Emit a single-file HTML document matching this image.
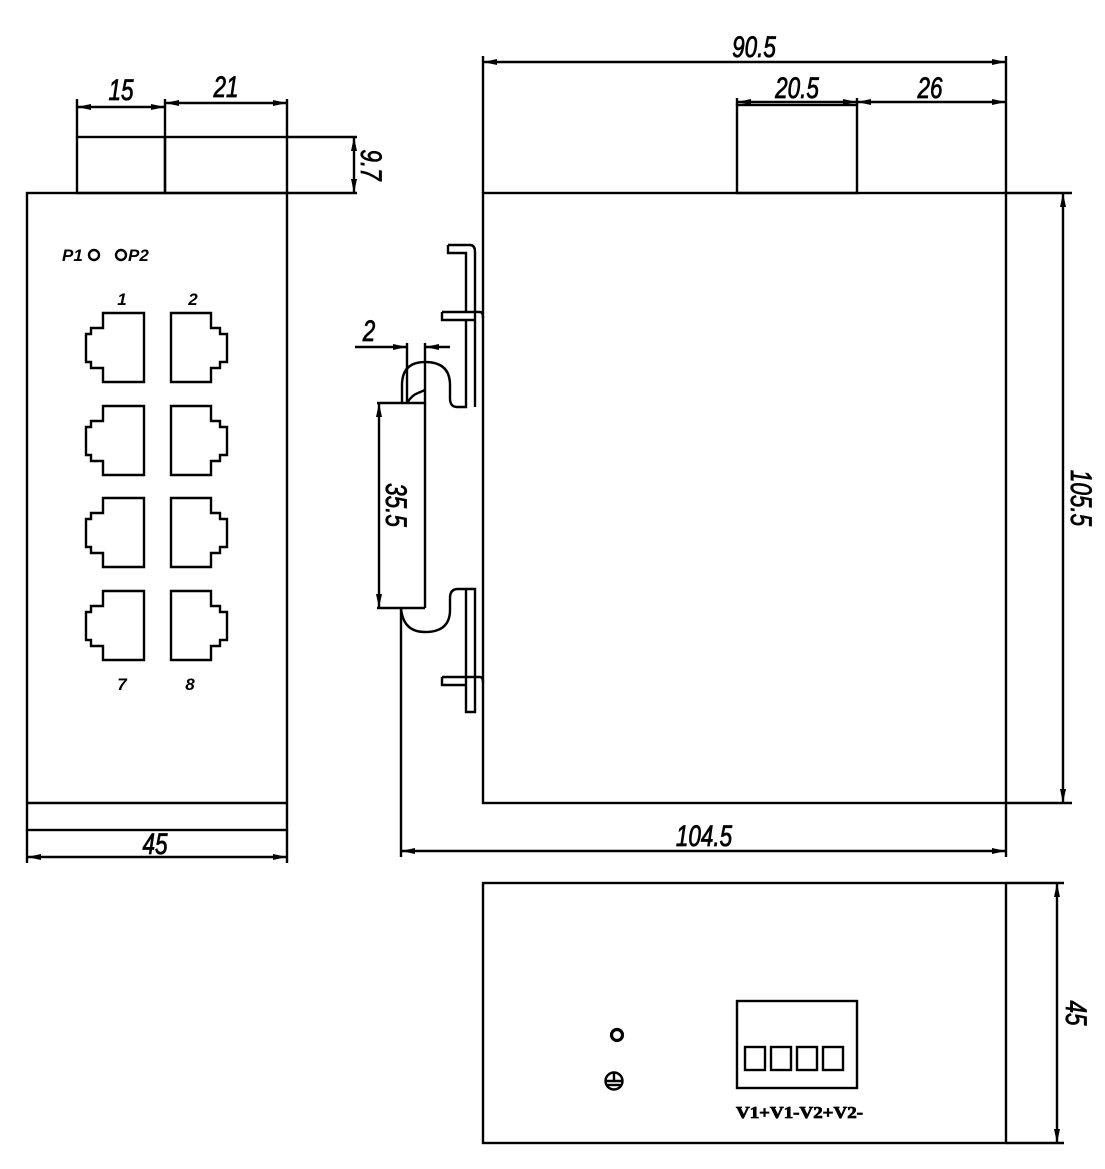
<!DOCTYPE html>
<html><head><meta charset="utf-8"><style>
html,body{margin:0;padding:0;background:#fff;}
svg{display:block}
text{font-family:"Liberation Sans",sans-serif;font-style:italic;fill:#000}
.d{stroke:#000;stroke-width:0.8}
</style></head><body>
<svg width="1105" height="1169" viewBox="0 0 1105 1169" xmlns="http://www.w3.org/2000/svg">
<defs>
<marker id="a" viewBox="0 0 14 6" refX="14" refY="3" markerWidth="14" markerHeight="6" orient="auto-start-reverse" markerUnits="userSpaceOnUse"><path d="M0,0 L14,3 L0,6 z" fill="#000"/></marker>
</defs>
<g fill="none" stroke="#000" stroke-width="2.4">
<rect x="27" y="193" width="260" height="637"/>
<line x1="27" y1="803" x2="287" y2="803"/>
<rect x="77" y="137" width="88" height="56"/>
<rect x="165" y="137" width="122" height="56"/>
<line x1="77" y1="137" x2="77" y2="99"/>
<line x1="165" y1="137" x2="165" y2="99"/>
<line x1="287" y1="137" x2="287" y2="99"/>
<line x1="77" y1="107" x2="165" y2="107" marker-start="url(#a)" marker-end="url(#a)"/>
<line x1="165" y1="103" x2="287" y2="103" marker-start="url(#a)" marker-end="url(#a)"/>
<line x1="287" y1="137" x2="357" y2="137"/>
<line x1="287" y1="193" x2="357" y2="193"/>
<line x1="354" y1="137" x2="354" y2="193" marker-start="url(#a)" marker-end="url(#a)"/>
<circle cx="94" cy="255" r="5"/>
<circle cx="121" cy="255" r="5"/>
<g id="pl"><path d="M103,313 H144 V382 H103 V368 H91 V362 H86 V334 H91 V328 H103 Z"/></g>
<use href="#pl" y="93"/><use href="#pl" y="185"/><use href="#pl" y="278"/>
<g id="pr"><path d="M171,313 H211 V328 H220 V334 H227 V362 H220 V368 H211 V382 H171 Z"/></g>
<use href="#pr" y="93"/><use href="#pr" y="185"/><use href="#pr" y="278"/>
<line x1="27" y1="830" x2="27" y2="863"/>
<line x1="287" y1="830" x2="287" y2="863"/>
<line x1="27" y1="857" x2="287" y2="857" marker-start="url(#a)" marker-end="url(#a)"/>
<rect x="483" y="193" width="523" height="610"/>
<rect x="737" y="105" width="120" height="88"/>
<line x1="483" y1="193" x2="483" y2="56"/>
<line x1="1006" y1="193" x2="1006" y2="56"/>
<line x1="737" y1="105" x2="737" y2="98"/>
<line x1="857" y1="105" x2="857" y2="98"/>
<line x1="483" y1="62" x2="1006" y2="62" marker-start="url(#a)" marker-end="url(#a)"/>
<line x1="737" y1="102" x2="857" y2="102" marker-start="url(#a)" marker-end="url(#a)"/>
<line x1="857" y1="102" x2="1006" y2="102" marker-start="url(#a)" marker-end="url(#a)"/>
<line x1="1006" y1="193" x2="1072" y2="193"/>
<line x1="1006" y1="803" x2="1072" y2="803"/>
<line x1="1063" y1="193" x2="1063" y2="803" marker-start="url(#a)" marker-end="url(#a)"/>
<line x1="1006" y1="803" x2="1006" y2="857"/>
<line x1="401" y1="608" x2="401" y2="857"/>
<line x1="401" y1="851" x2="1006" y2="851" marker-start="url(#a)" marker-end="url(#a)"/>
<path d="M448,245 H470 Q475,245 475,252 V407"/>
<path d="M448,245 V253 H466 V312"/>
<path d="M442,312 H480 Q483,312 483,318"/>
<path d="M442,312 V320 H475"/>
<path d="M466,320 V407 H457 Q450,407 450,398 V385 Q450,362 425,362 Q402,362 402,385 V403"/>
<path d="M407,403 Q412,395 418,393 L425,390"/>
<path d="M377,403 H425 V343"/>
<line x1="377" y1="608" x2="425" y2="608"/>
<line x1="425" y1="403" x2="425" y2="608"/>
<line x1="407" y1="343" x2="407" y2="403"/>
<line x1="379" y1="403" x2="379" y2="608" marker-start="url(#a)" marker-end="url(#a)"/>
<line x1="355" y1="347" x2="407" y2="347" marker-end="url(#a)"/>
<line x1="450" y1="347" x2="425" y2="347" marker-end="url(#a)"/>
<path d="M401,608 Q403,632 425,632 Q450,632 450,610 V598 Q450,589 458,589 H475 V712 H466 V589"/>
<path d="M442,677 H480 Q483,677 483,683"/>
<path d="M442,677 V685 H466"/>
<rect x="483" y="883" width="523" height="260"/>
<line x1="1006" y1="883" x2="1064" y2="883"/>
<line x1="1006" y1="1143" x2="1064" y2="1143"/>
<line x1="1057" y1="883" x2="1057" y2="1143" marker-start="url(#a)" marker-end="url(#a)"/>
<circle cx="617" cy="1035" r="5.5" stroke-width="3.2"/>
<circle cx="614" cy="1081" r="8.5"/>
<line x1="605" y1="1081" x2="623" y2="1081"/>
<line x1="607" y1="1085" x2="621" y2="1085"/>
<line x1="614" y1="1072" x2="614" y2="1081"/>
<rect x="737" y="1001" width="120" height="87"/>
<rect x="745" y="1047" width="20" height="23"/>
<rect x="771" y="1047" width="20" height="23"/>
<rect x="797" y="1047" width="20" height="23"/>
<rect x="823" y="1047" width="20" height="23"/>
</g>
<g font-size="30" class="d">
<text transform="translate(121 100) scale(0.75 1)" text-anchor="middle">15</text>
<text transform="translate(226 97) scale(0.75 1)" text-anchor="middle">21</text>
<text transform="translate(361 165) rotate(90) scale(0.75 1)" text-anchor="middle">9.7</text>
<text transform="translate(155 854) scale(0.75 1)" text-anchor="middle">45</text>
<text transform="translate(754 57) scale(0.75 1)" text-anchor="middle">90.5</text>
<text transform="translate(797 98) scale(0.75 1)" text-anchor="middle">20.5</text>
<text transform="translate(930 98) scale(0.75 1)" text-anchor="middle">26</text>
<text transform="translate(1071 498) rotate(90) scale(0.75 1)" text-anchor="middle">105.5</text>
<text transform="translate(704 846) scale(0.75 1)" text-anchor="middle">104.5</text>
<text transform="translate(386 505) rotate(90) scale(0.75 1)" text-anchor="middle">35.5</text>
<text transform="translate(369 341) scale(0.75 1)" text-anchor="middle">2</text>
<text transform="translate(1066 1013) rotate(90) scale(0.75 1)" text-anchor="middle">45</text>
</g>
<g font-size="17" font-weight="bold" font-family="Liberation Serif" style="font-family:'Liberation Serif',serif">
<text x="62" y="261">P1</text>
<text x="128" y="261">P2</text>
<text x="122" y="305" text-anchor="middle">1</text>
<text x="193" y="305" text-anchor="middle">2</text>
<text x="122" y="690" text-anchor="middle">7</text>
<text x="190" y="690" text-anchor="middle">8</text>
</g>
<text x="736" y="1118" font-weight="bold" font-size="17" textLength="127" lengthAdjust="spacingAndGlyphs" class="d" style="font-style:normal;font-family:'Liberation Serif',serif">V1+V1-V2+V2-</text>
</svg>
</body></html>
